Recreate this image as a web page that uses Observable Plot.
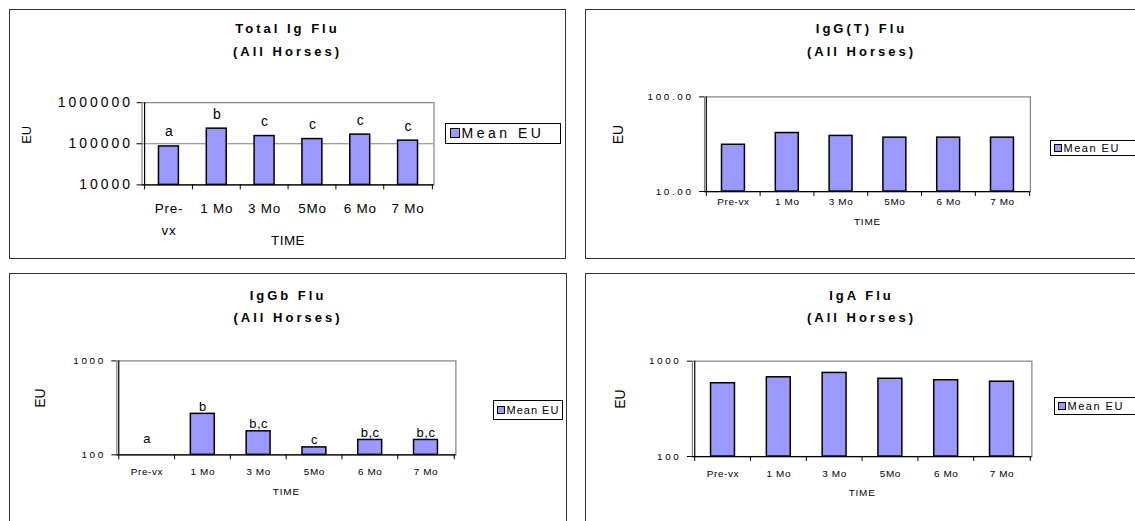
<!DOCTYPE html>
<html>
<head>
<meta charset="utf-8">
<script src="https://cdn.jsdelivr.net/npm/d3@7"></script>
<script src="https://cdn.jsdelivr.net/npm/@observablehq/plot@0.6"></script>
<style>
  body { margin: 0; background: #fff; }
  #page { position: relative; width: 1135px; height: 521px; overflow: hidden; background: #fff;
          font-family: Arial, "Liberation Sans", sans-serif; color: #000; }
  .panel { position: absolute; box-sizing: border-box; border: 1.5px solid #333; background: #fff; }
  .panel svg { position: absolute; overflow: visible; }
  .title { position: absolute; left: 0; right: 0; text-align: center; font-weight: bold;
           white-space: nowrap; line-height: 1; }
  .legend { position: absolute; box-sizing: border-box; border: 1px solid #000; background: #fff;
            display: flex; align-items: center; white-space: nowrap; }
  .swatch { display: inline-block; box-sizing: border-box; border: 1px solid #000; background: #9999ff; flex: none; }
</style>
</head>
<body>
<div id="page"></div>
<script>
// Sampling times shared by all four panels
const timePoints = ["Pre-vx", "1 Mo", "3 Mo", "5Mo", "6 Mo", "7 Mo"];

// Mean ELISA units per time point (log-scaled axes)
const totalIgMean = [86000, 233000, 154000, 130000, 167000, 119000];
const iggtMean = [31.2, 41.5, 38.7, 37.1, 37.1, 37.1];
const iggbMean = [95, 273, 178, 120, 144, 144];
const igaMean = [587, 678, 753, 654, 631, 609];

// Significance groups printed above the bars
const totalIgGroups = ["a", "b", "c", "c", "c", "c"];
const iggbGroups = ["a", "b", "b,c", "c", "b,c", "b,c"];

// Axis tick values
const totalIgTicks = [10000, 100000, 1000000];
const iggtTicks = [10, 100];
const iggbTicks = [100, 1000];
const igaTicks = [100, 1000];

// Titles and labels
const panelTitles = ["Total Ig Flu", "IgG(T) Flu", "IgGb Flu", "IgA Flu"];
const subTitle = "(All Horses)";
const legendLabel = "Mean EU";
const yLabel = "EU";
const xLabel = "TIME";

const BAR_FILL = "#9999ff";
const page = document.getElementById("page");

function drawPanel(cfg) {
  const {box, frame, title, values, groups, ticks, tickFormat, font, legend} = cfg;
  const bw = box.right - box.left, bh = box.bottom - box.top;
  const div = document.createElement("div");
  div.className = "panel";
  Object.assign(div.style, {left: box.left + "px", top: box.top + "px", width: bw + "px", height: bh + "px"});
  page.appendChild(div);

  const yMin = ticks[0], yMax = ticks[ticks.length - 1];
  const step = (frame.x1 - frame.x0) / timePoints.length;
  const rows = timePoints.map((t, i) => ({time: t, eu: values[i], group: groups ? groups[i] : null}));
  const labelled = groups ? rows : [];

  const svg = Plot.plot({
    width: bw, height: bh,
    marginLeft: frame.x0 - box.left, marginRight: box.right - frame.x1,
    marginTop: frame.y0 - box.top, marginBottom: box.bottom - frame.y1,
    style: {background: "none", fontFamily: "Arial, 'Liberation Sans', sans-serif",
            fontSize: font.tick + "px", overflow: "visible", color: "#000"},
    x: {type: "band", domain: timePoints, paddingInner: font.pad, paddingOuter: font.pad / 2, axis: null},
    y: {type: "log", domain: [yMin, yMax], axis: null},
    marks: [
      Plot.ruleY(ticks.slice(1, -1), {stroke: "#808080", strokeWidth: 1}),
      Plot.frame({stroke: "#808080", strokeWidth: 1.2}),
      Plot.barY(rows.filter(d => d.eu > yMin), {x: "time", y1: yMin, y2: "eu", fill: BAR_FILL,
                                                stroke: "#000", strokeWidth: 1.5}),
      // value axis line and ticks
      Plot.ruleX([timePoints[0]], {dx: -step / 2, stroke: "#000", strokeWidth: 1.2}),
      Plot.axisY({ticks, tickSize: 5, tickFormat: () => "", label: null, stroke: "#000"}),
      Plot.text(ticks, {y: d => d, frameAnchor: "left", textAnchor: "end", dx: font.tickGap,
                        text: tickFormat, fontSize: font.tick, ariaDescription: "tick-labels"}),
      // category axis line and band boundary ticks
      Plot.ruleY([yMin], {stroke: "#000", strokeWidth: 1.2}),
      Plot.ruleX(timePoints, {x: d => d, y1: yMin, y2: yMin, insetBottom: -5, dx: -step / 2, stroke: "#000"}),
      Plot.ruleX([timePoints[timePoints.length - 1]], {y1: yMin, y2: yMin, insetBottom: -5, dx: step / 2, stroke: "#000"}),
      Plot.text(timePoints, {x: d => d, y: yMin, dy: font.catGap, lineAnchor: "top",
                             text: font.wrap ? (d => d.replace("-", "-\n")) : (d => d),
                             lineHeight: font.catLine, fontSize: font.cat, ariaDescription: "categories"}),
      // significance letters
      Plot.text(labelled.filter(d => d.eu >= yMin), {x: "time", y: "eu", text: "group", lineAnchor: "bottom",
                                                   dy: font.groupGap, fontSize: font.group, ariaDescription: "groups"}),
      Plot.text(labelled.filter(d => d.eu < yMin), {x: "time", y: yMin, text: "group", lineAnchor: "bottom",
                                                  dy: font.groupGapLow, fontSize: font.group, ariaDescription: "groups"}),
      // axis titles
      Plot.text([yLabel], {frameAnchor: "left", lineAnchor: "middle", rotate: -90, dx: font.euX - frame.x0,
                           fontSize: font.eu}),
      Plot.text([xLabel], {frameAnchor: "bottom", lineAnchor: "middle", dy: font.timeY - frame.y1,
                           fontSize: font.time, ariaDescription: "time-label"})
    ]
  });
  // glyph spacing of the different text groups
  const spacing = {"tick-labels": font.spacing, "categories": font.catSpacing,
                   "groups": font.groupSpacing, "time-label": font.timeSpacing};
  for (const [key, val] of Object.entries(spacing)) {
    svg.querySelectorAll(`g[aria-description="${key}"]`).forEach(g => g.style.letterSpacing = val + "px");
  }
  svg.style.left = "-1.5px";
  svg.style.top = "-1.5px";
  div.appendChild(svg);

  // two-line title
  [title, subTitle].forEach((t, k) => {
    const el = document.createElement("div");
    el.className = "title";
    el.textContent = t;
    Object.assign(el.style, {top: (font.titleY[k] - box.top - 1.5 - font.title / 2) + "px",
                             fontSize: font.title + "px", letterSpacing: font.titleSpacing + "px"});
    div.appendChild(el);
  });

  // legend box
  const lg = document.createElement("div");
  lg.className = "legend";
  Object.assign(lg.style, {left: (legend.x0 - box.left - 1.5) + "px", top: (legend.y0 - box.top - 1.5) + "px",
                           width: (legend.x1 - legend.x0) + "px", height: (legend.y1 - legend.y0) + "px",
                           fontSize: legend.font + "px", letterSpacing: legend.spacing + "px",
                           paddingLeft: legend.padLeft + "px"});
  const sw = document.createElement("span");
  sw.className = "swatch";
  Object.assign(sw.style, {width: legend.swatch + "px", height: legend.swatch + "px", marginRight: "2px"});
  const tx = document.createElement("span");
  tx.textContent = legendLabel;
  lg.appendChild(sw);
  lg.appendChild(tx);
  div.appendChild(lg);
}

const bigFont = {tick: 14, spacing: 3, pad: 0.59, tickGap: -9, cat: 13.5, catSpacing: 0.8, catGap: 13, catLine: 1.6,
                 wrap: true, group: 14, groupSpacing: 0, groupGap: -10, groupGapLow: -10, eu: 13, euX: 26,
                 time: 13.5, timeSpacing: 0.5, timeY: 241, title: 13, titleSpacing: 3, titleY: [29, 52]};
const smallFont = (o) => Object.assign({tick: 10, spacing: 2.6, pad: 0.58, tickGap: -11, cat: 10, catSpacing: 0.6,
                 catGap: 5, catLine: 1.2, wrap: false, group: 13, groupSpacing: 0.5, groupGap: -3, groupGapLow: -12,
                 eu: 14, time: 10, timeSpacing: 0.8, title: 13, titleSpacing: 3}, o);

drawPanel({
  box: {left: 9, top: 9, right: 566, bottom: 259},
  frame: {x0: 142, x1: 435, y0: 102.5, y1: 185},
  title: panelTitles[0], values: totalIgMean, groups: totalIgGroups,
  ticks: totalIgTicks, tickFormat: d => String(d),
  font: bigFont,
  legend: {x0: 445, x1: 561, y0: 123, y1: 144, font: 14, spacing: 3.5, swatch: 10, padLeft: 4}
});

drawPanel({
  box: {left: 585, top: 9, right: 1138, bottom: 259},
  frame: {x0: 704.5, x1: 1031.5, y0: 96.7, y1: 191.7},
  title: panelTitles[1], values: iggtMean, groups: null,
  ticks: iggtTicks, tickFormat: d => d.toFixed(2),
  font: smallFont({euX: 618, timeY: 222, catGap: 5, titleY: [29, 52]}),
  legend: {x0: 1050, x1: 1140, y0: 140, y1: 156, font: 11, spacing: 1.5, swatch: 8, padLeft: 3}
});

drawPanel({
  box: {left: 9, top: 273, right: 567, bottom: 531},
  frame: {x0: 116.7, x1: 457, y0: 360.7, y1: 455},
  title: panelTitles[2], values: iggbMean, groups: iggbGroups,
  ticks: iggbTicks, tickFormat: d => String(d),
  font: smallFont({euX: 40, timeY: 492, catGap: 12, titleY: [295.5, 317.5]}),
  legend: {x0: 493, x1: 563, y0: 400, y1: 420, font: 11, spacing: 1, swatch: 8, padLeft: 3}
});

drawPanel({
  box: {left: 585, top: 273, right: 1138, bottom: 531},
  frame: {x0: 692.3, x1: 1033, y0: 361, y1: 456.7},
  title: panelTitles[3], values: igaMean, groups: null,
  ticks: igaTicks, tickFormat: d => String(d),
  font: smallFont({euX: 620, timeY: 493.5, catGap: 12, titleY: [295.5, 317.5]}),
  legend: {x0: 1054, x1: 1140, y0: 397, y1: 415, font: 11, spacing: 1.5, swatch: 8, padLeft: 3}
});
</script>
</body>
</html>
